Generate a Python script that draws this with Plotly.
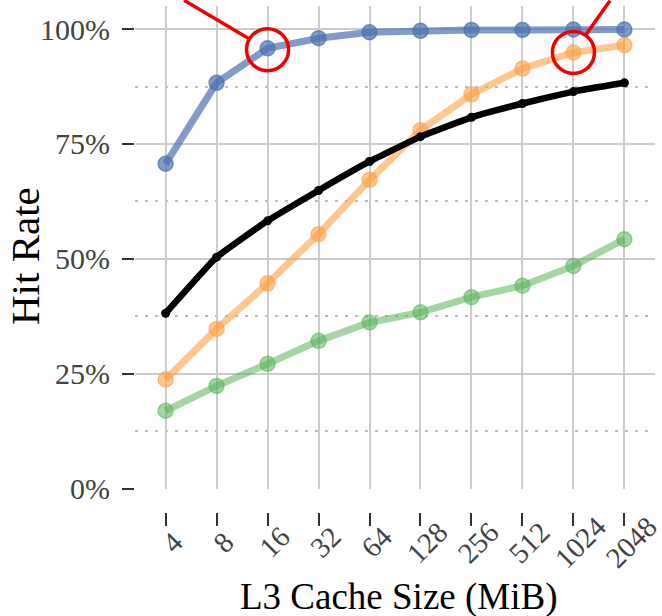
import plotly.graph_objects as go

cache_sizes = ["4", "8", "16", "32", "64", "128", "256", "512", "1024", "2048"]
blue_vals = [70.7, 88.3, 95.8, 98.0, 99.3, 99.6, 99.8, 99.8, 99.9, 99.9]
orange_vals = [23.8, 34.8, 44.7, 55.4, 67.2, 78.0, 85.8, 91.4, 94.9, 96.5]
green_vals = [17.0, 22.4, 27.2, 32.2, 36.2, 38.4, 41.7, 44.2, 48.5, 54.3]
black_vals = [38.2, 50.4, 58.3, 64.9, 71.2, 76.6, 80.8, 83.8, 86.4, 88.3]
y_ticks = [0, 25, 50, 75, 100]
y_tick_text = ["0%", "25%", "50%", "75%", "100%"]

FONT = "Liberation Serif"

fig = go.Figure()

def colored(vals, rgb, alpha):
    c = f"rgba({rgb[0]},{rgb[1]},{rgb[2]},{alpha})"
    return go.Scatter(
        x=cache_sizes, y=vals, mode="lines+markers",
        line=dict(color=c, width=7),
        marker=dict(size=15, color=c, line=dict(color=c, width=1.5)),
        showlegend=False, hoverinfo="skip",
    )

fig.add_trace(colored(blue_vals, (76, 114, 176), 0.7))
fig.add_trace(colored(orange_vals, (255, 160, 70), 0.6))
fig.add_trace(colored(green_vals, (90, 180, 90), 0.55))
fig.add_trace(go.Scatter(
    x=cache_sizes, y=black_vals, mode="lines+markers",
    line=dict(color="black", width=6.5, shape="spline", smoothing=0.3),
    marker=dict(size=9, color="black"),
    showlegend=False, hoverinfo="skip",
))

RED = "rgb(240,0,0)"
highlights = [(2, blue_vals[2] - 0.3, -84, -51), (8, orange_vals[8], 37, -54)]
for idx, yval, ax, ay in highlights:
    fig.add_shape(type="circle", xref="x", yref="y",
                  xsizemode="pixel", ysizemode="pixel",
                  xanchor=idx, yanchor=yval,
                  x0=-21, x1=21, y0=-21, y1=21,
                  line=dict(color=RED, width=3.5), layer="above")
    fig.add_annotation(x=idx, y=yval, ax=ax, ay=ay, axref="pixel", ayref="pixel",
                       text=" ", font=dict(size=1), borderpad=0,
                       showarrow=True, arrowhead=0, arrowwidth=3.5,
                       arrowcolor=RED, standoff=21, xref="x", yref="y")

# rotated category labels, centred under each tick
for i, lab in enumerate(cache_sizes):
    fig.add_annotation(x=i, y=-0.0593, xref="x", yref="paper", text=lab,
                       textangle=-45, showarrow=False, xanchor="center", yanchor="middle",
                       xshift=7, font=dict(size=29, family=FONT, color="#444"))

# axis titles
fig.add_annotation(x=-0.2115, y=0.506, xref="paper", yref="paper", text="Hit Rate",
                   textangle=-90, showarrow=False, xanchor="center", yanchor="middle",
                   font=dict(size=41, family=FONT, color="black"))
fig.add_annotation(x=0.5077, y=-0.168, xref="paper", yref="paper", text="L3 Cache Size (MiB)",
                   showarrow=False, xanchor="center", yanchor="middle",
                   font=dict(size=37, family=FONT, color="black"))

fig.update_layout(
    width=662, height=616,
    margin=dict(l=135, r=7, t=6, b=104),
    paper_bgcolor="white", plot_bgcolor="white",
    font=dict(family=FONT, color="#444"),
    xaxis=dict(
        type="category", range=[-0.6, 9.6], automargin=False,
        anchor="free", position=0,
        showgrid=True, gridcolor="#cccccc", gridwidth=2,
        showline=False, zeroline=False, showticklabels=False,
        ticks="outside", ticklen=13, tickwidth=2, tickcolor="#333",
    ),
    yaxis=dict(
        domain=[0.0455, 1], automargin=False,
        range=[0, 105],
        tickvals=y_ticks, ticktext=y_tick_text,
        showgrid=True, gridcolor="#cccccc", gridwidth=2,
        showline=False, zeroline=False,
        ticks="outside", ticklen=12, tickwidth=2, tickcolor="#333",
        ticklabelstandoff=6,
        tickfont=dict(size=30, family=FONT, color="#444"),
        minor=dict(dtick=12.5, tick0=0, showgrid=True, gridcolor="#bbbbbb",
                   griddash="3px,7px", gridwidth=2, ticks=""),
    ),
)

fig.write_html("out.html", post_script="document.body.style.margin='0';",
               config={"displayModeBar": False})
